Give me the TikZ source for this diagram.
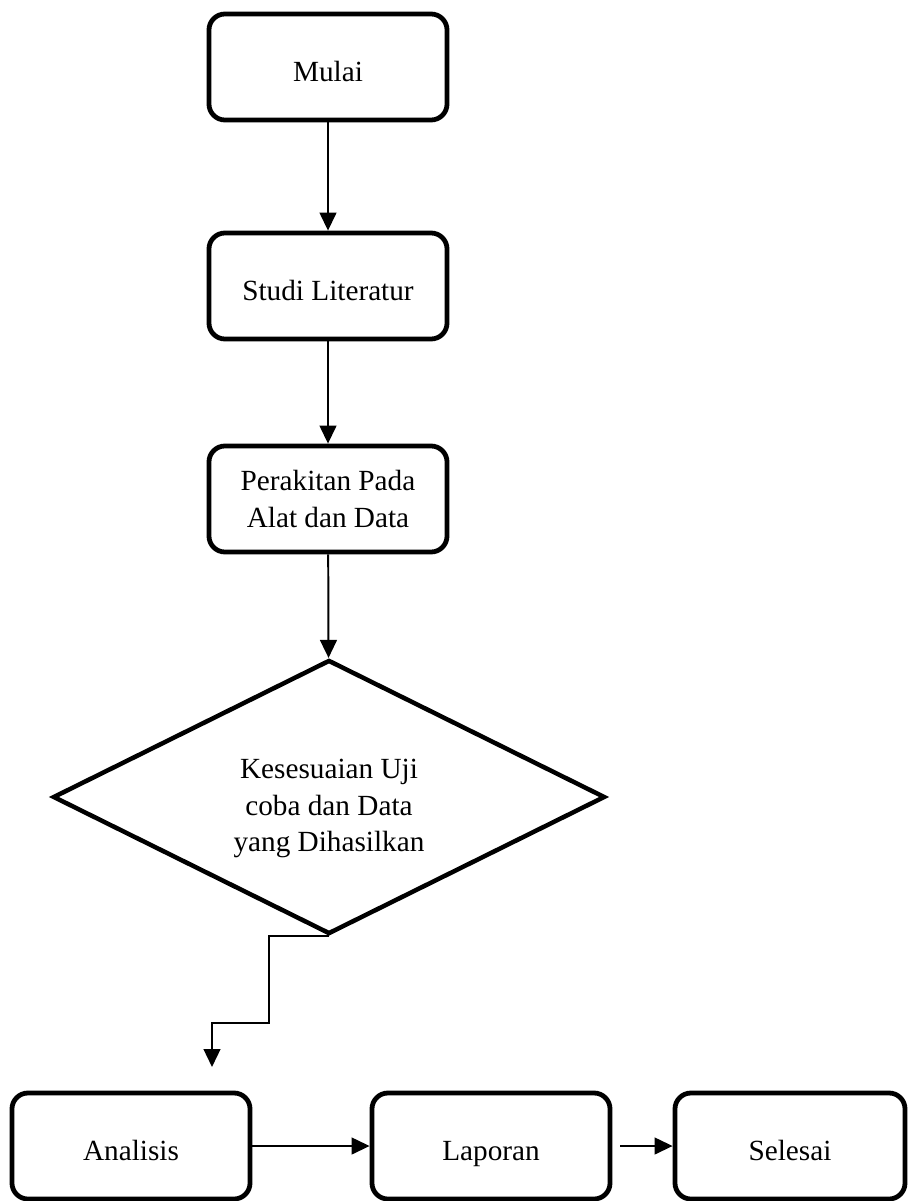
\documentclass[tikz,border=0pt]{standalone}
\usepackage{fontspec}
\setmainfont{Liberation Serif}
\usepackage{tikz}
\usetikzlibrary{shapes.geometric, arrows.meta}

\begin{document}
\begin{tikzpicture}[x=0.025cm, y=-0.025cm,
    proses/.style = {draw, rounded corners=0.4cm, line width=3.4pt, minimum width=5.95cm, minimum height=2.65cm, align=center, font=\fontsize{20.8}{27}\selectfont},
    satu/.style = {text height=0.85cm, text depth=0.15cm},
    cek/.style = {draw, diamond, aspect=2, line width=3.2pt, minimum width=13.8cm, minimum height=6.85cm, inner sep=0pt, align=center, text height=2.9cm, font=\fontsize{20.8}{26}\selectfont},
    panah/.style = {line width=1.4pt, -{Triangle[length=0.45cm, width=0.42cm]}}]
    \useasboundingbox (0,0) rectangle (913,1201);

    % 节点
    \node[proses, satu] (mulai) at (328,67) {Mulai};
    \node[proses, satu] (studi) at (328,286) {Studi Literatur};
    \node[proses] (rakit) at (328,499) {Perakitan Pada\\Alat dan Data};
    \node[cek] (uji) at (329,797) {Kesesuaian Uji\\coba dan Data\\yang Dihasilkan};
    \node[proses, satu] (analisis) at (131,1146) {Analisis};
    \node[proses, satu] (laporan) at (491,1146) {Laporan};
    \node[proses, satu, minimum width=5.75cm] (selesai) at (790,1146) {Selesai};
    \coordinate (b1) at (269,1023);
    \coordinate (b2) at (212,1067);

    % 连线
    \draw[panah] (mulai) -- (studi);
    \draw[panah] (studi) -- (rakit);
    \draw[panah] (rakit) -- (uji);
    \draw[panah] (uji.south) -| (b1) -| (b2);
    \draw[panah] (analisis) -- (laporan);
    \draw[panah, shorten <=0.2cm] (laporan) -- (selesai);
\end{tikzpicture}
\end{document}
